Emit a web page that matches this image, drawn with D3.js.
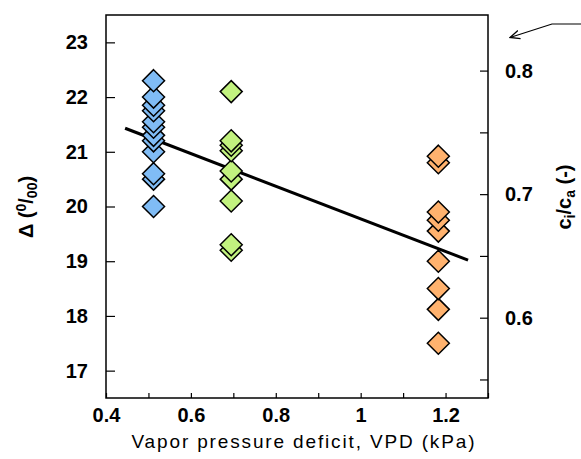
<!DOCTYPE html>
<html>
<head>
<meta charset="utf-8">
<script src="https://cdn.jsdelivr.net/npm/d3@7"></script>
<style>
  body { margin: 0; background: #fff; }
  text { font-family: "Liberation Sans", Arial, Helvetica, sans-serif; fill: #000; }
</style>
</head>
<body>
<div id="chart"></div>
<script>
// data
var vpdGroups = [0.512, 0.695, 1.183];
var groupColors = ["#80bcf5", "#c2f27f", "#ffb26e"];
var blueDelta = [22.3, 22.0, 21.85, 21.75, 21.55, 21.45, 21.3, 21.2, 21.0, 20.6, 20.5, 20.0];
var greenDelta = [22.1, 21.2, 21.12, 21.02, 20.65, 20.5, 20.1, 19.3, 19.2];
var orangeDelta = [20.92, 20.8, 19.9, 19.75, 19.55, 19.0, 18.5, 18.12, 17.5];
var fitX = [0.445, 1.253];
var fitY = [21.43, 19.02];
var xTicksMajor = [0.4, 0.6, 0.8, 1, 1.2];
var yTicks = [17, 18, 19, 20, 21, 22, 23];
var rTicks = [0.55, 0.6, 0.65, 0.7, 0.75, 0.8];
var rLabels = [0.6, 0.7, 0.8];

var margin = { top: 15, right: 93, bottom: 61, left: 106 },
    width = 581 - margin.left - margin.right,
    height = 459 - margin.top - margin.bottom;

var svg = d3.select("#chart")
    .append("svg")
    .attr("width", 581)
    .attr("height", 459)
    .append("g")
    .attr("transform", "translate(" + margin.left + "," + margin.top + ")");

var x = d3.scaleLinear().domain([0.4, 1.3]).range([0, width]);
var y = d3.scaleLinear().domain([16.5, 23.5]).range([height, 0]);
var yr = d3.scaleLinear().domain([0.535, 0.845]).range([height, 0]);

function isIn(list, d) {
    return list.some(function(t) { return Math.abs(t - d) < 1e-6; });
}

// frame
svg.append("rect")
    .attr("width", width).attr("height", height)
    .attr("fill", "none").attr("stroke", "#000").attr("stroke-width", 1.5);

// bottom axis, ticks inward
var xa = svg.append("g")
    .attr("transform", "translate(0," + height + ")")
    .call(d3.axisBottom(x).tickValues(d3.range(4, 14).map(function(d) { return d / 10; }))
        .tickSize(-5).tickPadding(10)
        .tickFormat(function(d) { return isIn(xTicksMajor, d) ? String(+d.toFixed(1)) : ""; }));
xa.select(".domain").remove();
xa.selectAll("text").style("font-size", "20px").style("font-weight", "bold");

// left axis
var ya = svg.append("g")
    .call(d3.axisLeft(y).tickValues(yTicks).tickSize(-9).tickPadding(18).tickFormat(d3.format("d")));
ya.select(".domain").remove();
ya.selectAll("text").style("font-size", "20px").style("font-weight", "bold");

// right axis
var ra = svg.append("g")
    .attr("transform", "translate(" + width + ",0)")
    .call(d3.axisRight(yr).tickValues(rTicks).tickSize(-8).tickPadding(17)
        .tickFormat(function(d) { return isIn(rLabels, d) ? d3.format(".1f")(d) : ""; }));
ra.select(".domain").remove();
ra.selectAll("text").style("font-size", "20px").style("font-weight", "bold");

svg.selectAll(".tick line").attr("stroke-width", 1.2);

// regression line
svg.append("line")
    .attr("x1", x(fitX[0])).attr("y1", y(fitY[0]))
    .attr("x2", x(fitX[1])).attr("y2", y(fitY[1]))
    .attr("stroke", "#000").attr("stroke-width", 3);

// diamonds
var groups = [blueDelta, greenDelta, orangeDelta];
var diamond = "M0,-11L11,0L0,11L-11,0Z";
groups.forEach(function(vals, i) {
    svg.selectAll(".pt" + i)
        .data(vals.slice().reverse())
        .enter()
        .append("path")
        .attr("d", diamond)
        .attr("transform", function(d) { return "translate(" + x(vpdGroups[i]) + "," + y(d) + ")"; })
        .attr("fill", groupColors[i])
        .attr("stroke", "#000")
        .attr("stroke-width", 1.5);
});

// x title
svg.append("text")
    .attr("x", width / 2 + 6)
    .attr("y", height + 50)
    .attr("text-anchor", "middle")
    .attr("textLength", 343)
    .attr("lengthAdjust", "spacing")
    .style("font-size", "19px")
    .text("Vapor pressure deficit, VPD (kPa)");

// left title
var lt = svg.append("text")
    .attr("transform", "translate(" + (-73) + "," + 192 + ") rotate(-90)")
    .attr("text-anchor", "middle")
    .style("font-size", "20px")
    .style("font-weight", "bold");
lt.append("tspan").text("Δ (");
lt.append("tspan").attr("dy", -7).style("font-size", "14px").text("0");
lt.append("tspan").attr("dy", 7).text("/");
lt.append("tspan").attr("dy", 4).style("font-size", "14px").text("00");
lt.append("tspan").attr("dy", -4).text(")");

// right title
var rt = svg.append("text")
    .attr("transform", "translate(" + (width + 83) + "," + 182 + ") rotate(-90)")
    .attr("text-anchor", "middle")
    .style("font-size", "20px")
    .style("font-weight", "bold");
rt.append("tspan").text("c");
rt.append("tspan").attr("dy", 4).style("font-size", "14px").text("i");
rt.append("tspan").attr("dy", -4).text("/c");
rt.append("tspan").attr("dy", 4).style("font-size", "14px").text("a");
rt.append("tspan").attr("dy", -4).text(" (-)");

// arrow pointing at the right axis
var root = d3.select("#chart svg");
root.append("defs").append("marker")
    .attr("id", "ah").attr("viewBox", "0 0 10 10").attr("refX", 9).attr("refY", 5)
    .attr("markerWidth", 9).attr("markerHeight", 9).attr("orient", "auto")
    .append("path").attr("d", "M0,1L9,5L0,9").attr("fill", "none").attr("stroke", "#000").attr("stroke-width", 1.2);
root.append("polyline")
    .attr("points", "581,24 552,24 510,37.5")
    .attr("fill", "none").attr("stroke", "#000").attr("stroke-width", 1.2)
    .attr("marker-end", "url(#ah)");
</script>
</body>
</html>
